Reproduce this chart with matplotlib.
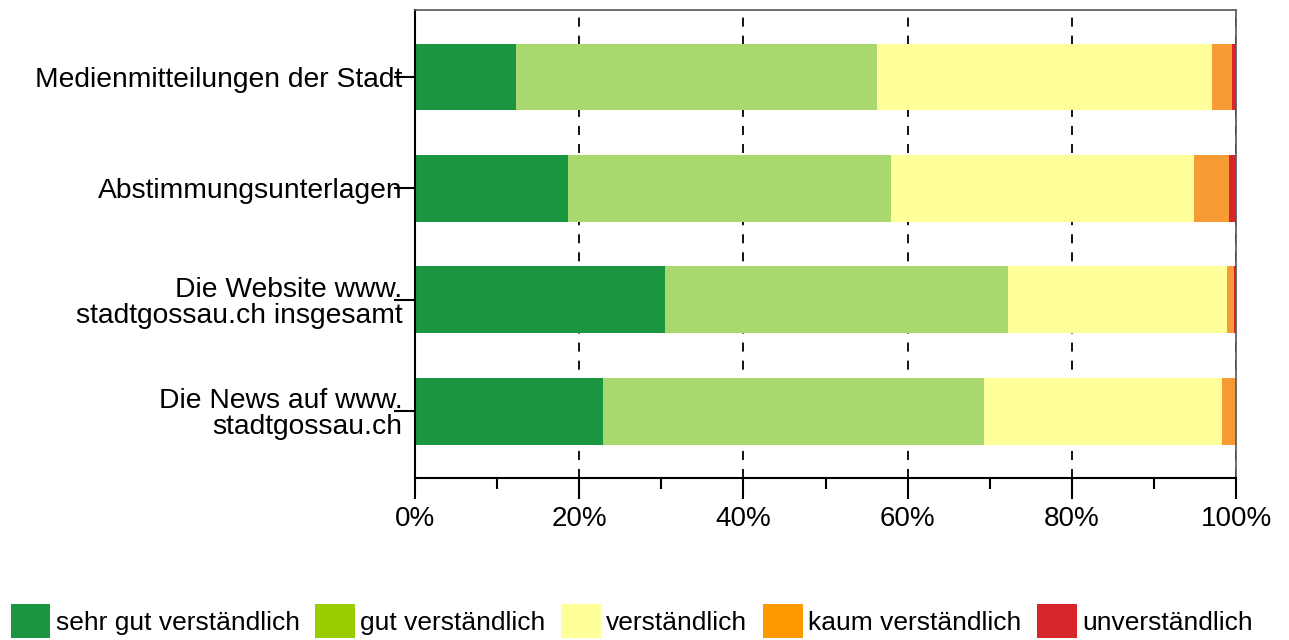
import numpy as np
import matplotlib.pyplot as plt
from matplotlib.patches import Patch

plt.rcParams['font.family'] = ['Liberation Sans', 'DejaVu Sans']

categories = ['Medienmitteilungen der Stadt', 'Abstimmungsunterlagen',
              'Die Website www.\nstadtgossau.ch insgesamt',
              'Die News auf www.\nstadtgossau.ch']
series = ['sehr gut verständlich', 'gut verständlich', 'verständlich',
          'kaum verständlich', 'unverständlich']
sehr_gut = [12.3, 18.6, 30.5, 22.9]
gut = [43.9, 39.4, 41.7, 46.4]
verst = [40.8, 36.9, 26.7, 29.0]
kaum = [2.5, 4.2, 0.85, 1.7]
unverst = [0.5, 0.9, 0.25, 0.0]

bar_colors = ['#1a9641', '#a9d96e', '#ffff99', '#f99b35', '#d7262a']
legend_colors = ['#1a9641', '#9acd00', '#ffff99', '#ff9900', '#d7262a']

fig = plt.figure(figsize=(12.89, 6.4), dpi=100)
ax = fig.add_axes([0.322, 0.253, 0.637, 0.731])

y = np.arange(len(categories))
left = np.zeros(len(categories))
for vals, col in zip([sehr_gut, gut, verst, kaum, unverst], bar_colors):
    ax.barh(y, vals, left=left, height=0.6, color=col, zorder=2)
    left += np.array(vals)

ax.set_xlim(0, 100)
ax.set_ylim(3.6, -0.6)
ax.set_yticks(y)
ax.set_yticklabels(categories, fontsize=20.3, ha='right', linespacing=1.0)
ax.set_xticks(np.arange(0, 101, 20))
ax.set_xticklabels([f'{v}%' for v in range(0, 101, 20)], fontsize=20)
ax.set_xticks(np.arange(10, 100, 20), minor=True)
ax.tick_params(axis='x', which='major', length=15, width=1.5, direction='out', pad=5)
ax.tick_params(axis='x', which='minor', length=8, width=1.5, direction='out')
ax.tick_params(axis='y', length=15, width=1.5, direction='out', pad=-6)
ax.xaxis.grid(True, which='major', linestyle=(0, (5, 5)), color='black', linewidth=1.3, zorder=0)
ax.set_axisbelow(True)
for s in ['left', 'bottom']:
    ax.spines[s].set_linewidth(1.5)
for s in ['top', 'right']:
    ax.spines[s].set_color('#555555')
    ax.spines[s].set_linewidth(1.2)

handles = [Patch(facecolor=c, edgecolor='none') for c in legend_colors]
fig.legend(handles, series, loc='lower left', bbox_to_anchor=(-0.004, -0.022), ncol=5,
           frameon=False, fontsize=19, handlelength=1.5, handleheight=1.6,
           handletextpad=0.2, columnspacing=0.6, borderaxespad=0.2)

fig.savefig('out.png', dpi=100)
